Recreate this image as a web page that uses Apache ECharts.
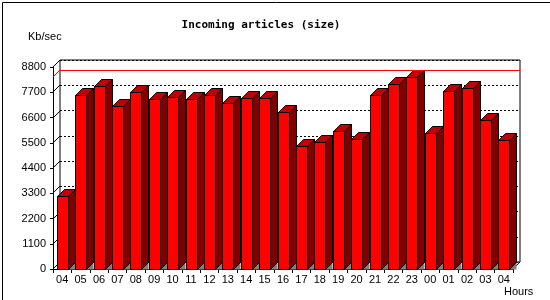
<!DOCTYPE html>
<html><head><meta charset="utf-8">
<script src="https://cdn.jsdelivr.net/npm/echarts@6/dist/echarts.min.js"></script>
<style>html,body{margin:0;padding:0;background:#fff}#c{width:550px;height:300px}</style>
</head><body><div id="c"></div>
<script>
const hours = ['04','05','06','07','08','09','10','11','12','13','14','15','16','17','18','19','20','21','22','23','00','01','02','03','04'];
const kbPerSec = [3180,7575,7966,7094,7704,7412,7486,7399,7575,7225,7443,7443,6832,5363,5524,6004,5655,7575,8053,8358,5917,7748,7879,6483,5611];
const yTicks = [0,1100,2200,3300,4400,5500,6600,7700,8800];
const titleText = 'Incoming articles (size)';
const yUnit = 'Kb/sec';
const xUnit = 'Hours';

const D = 7;      // 3D depth offset
const BW = 11;    // bar front width
const maxVal = Math.max.apply(null, kbPerSec);
const FONT = '"Liberation Sans", Arial, sans-serif';

const chart = echarts.init(document.getElementById('c'), null, {renderer:'canvas'});

chart.setOption({
  animation: false,
  backgroundColor: '#fff',
  grid: [
    {left:53, top:67, width:460, height:202, show:false},
    {left:60, top:60, width:460, height:202, show:true, borderColor:'#000', borderWidth:1, backgroundColor:'transparent'}
  ],
  xAxis: [
    {type:'category', gridIndex:0, data:hours, boundaryGap:true,
     axisLine:{show:true, lineStyle:{color:'#000', width:1}},
     axisTick:{show:true, length:4, interval:0, lineStyle:{color:'#000'}},
     axisLabel:{interval:0, color:'#000', fontFamily:FONT, fontSize:11, margin:5},
     splitLine:{show:false}},
    {type:'category', gridIndex:1, data:hours, boundaryGap:true, show:false}
  ],
  yAxis: [
    {type:'value', gridIndex:0, min:0, max:8800, interval:1100,
     axisLine:{show:true, lineStyle:{color:'#000', width:1}},
     axisTick:{show:true, length:3, lineStyle:{color:'#000'}},
     axisLabel:{color:'#000', fontFamily:FONT, fontSize:11, margin:7, formatter:function(v){return String(v);}},
     splitLine:{show:false}},
    {type:'value', gridIndex:1, min:0, max:8800, interval:1100,
     axisLine:{show:false}, axisTick:{show:false}, axisLabel:{show:false},
     splitLine:{show:true, lineStyle:{color:'#000', type:[2,2], width:1}}}
  ],
  graphic: [
    {type:'rect', left:0, top:0, shape:{x:0.5, y:0.5, width:549, height:299}, style:{fill:'none', stroke:'#000', lineWidth:1}, silent:true, z:100},
    {type:'text', x:261, y:25, style:{text:titleText, fill:'#000', font:'bold 11px "DejaVu Sans Mono", monospace', textAlign:'center', textVerticalAlign:'middle'}},
    {type:'text', x:28, y:37, style:{text:yUnit, fill:'#000', font:'11px ' + FONT, textAlign:'left', textVerticalAlign:'middle'}},
    {type:'text', x:504, y:292, style:{text:xUnit, fill:'#000', font:'11px ' + FONT, textAlign:'left', textVerticalAlign:'middle'}}
  ],
  series: [
    { // back wall max line
      type:'line', xAxisIndex:1, yAxisIndex:1, data:kbPerSec, symbol:'none',
      lineStyle:{opacity:0}, silent:true, z:1,
      markLine:{silent:true, symbol:['none','none'], label:{show:false},
        lineStyle:{color:'#ff0000', type:'solid', width:1},
        data:[{type:'max'}]}
    },
    { // frame diagonals
      type:'custom', xAxisIndex:0, yAxisIndex:0, data:[[0,0]], z:2, silent:true,
      renderItem: function(params, api){
        const cs = params.coordSys;
        const x0 = cs.x, x1 = cs.x + cs.width;
        const children = [];
        yTicks.forEach(function(t){
          const y = api.coord([0, t])[1];
          children.push({type:'line', shape:{x1:x0, y1:Math.round(y), x2:x0+D, y2:Math.round(y)-D}, style:{stroke:'#000', lineWidth:1}});
        });
        const ym = Math.round(api.coord([0, maxVal])[1]);
        children.push({type:'line', shape:{x1:x0, y1:ym, x2:x0+D, y2:ym-D}, style:{stroke:'#ff0000', lineWidth:1}});
        const yb = Math.round(api.coord([0, 0])[1]);
        children.push({type:'line', shape:{x1:x1, y1:yb, x2:x1+D, y2:yb-D}, style:{stroke:'#000', lineWidth:1}});
        return {type:'group', children:children};
      }
    },
    { // 3D bars
      type:'custom', xAxisIndex:0, yAxisIndex:0, z:3, silent:true,
      data: kbPerSec.map(function(v,i){return [i, v];}),
      renderItem: function(params, api){
        const p = api.coord([api.value(0), api.value(1)]);
        const b = api.coord([api.value(0), 0]);
        const xl = Math.round(p[0] - BW/2) + 0.5;
        const xr = xl + BW;
        const top = Math.round(p[1]) + 0.5;
        const base = Math.round(b[1]) + 0.5;
        const st = {stroke:'#000', lineWidth:1};
        return {type:'group', children:[
          {type:'polygon', shape:{points:[[xr,base],[xr+D,base-D],[xr+D,base]]}, style:{fill:'#808080', stroke:'#000', lineWidth:0}},
          {type:'polygon', shape:{points:[[xr,top],[xr+D,top-D],[xr+D,base-D],[xr,base]]}, style:Object.assign({fill:'#800000'}, st)},
          {type:'polygon', shape:{points:[[xl,top],[xl+D,top-D],[xr+D,top-D],[xr,top]]}, style:Object.assign({fill:'#c00000'}, st)},
          {type:'rect', shape:{x:xl, y:top, width:BW, height:base-top}, style:Object.assign({fill:'#ff0000'}, st)}
        ]};
      }
    }
  ]
});
</script></body></html>
